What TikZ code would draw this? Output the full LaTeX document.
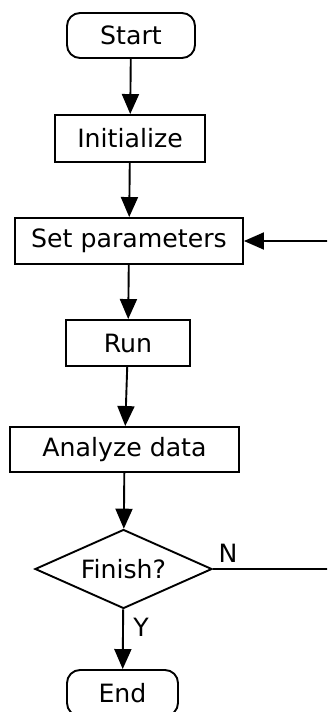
\documentclass[tikz,border=0pt]{standalone}
\usepackage{fontspec}
\setmainfont{DejaVu Sans}
\usetikzlibrary{arrows.meta,shapes.geometric}

\tikzset{
    box/.style={draw, line width=0.95pt, inner sep=0pt, font=\fontsize{12.6}{14}\selectfont},
    term/.style={box, rounded corners=6.5pt},
    decision/.style={box, diamond, aspect=2.24},
    flow/.style={line width=0.95pt, -{Triangle[length=10pt,width=8.5pt]}},
    plain/.style={line width=0.95pt},
    tag/.style={font=\fontsize{12.6}{14}\selectfont, inner sep=0pt}
}

\begin{document}
\begin{tikzpicture}[x=0.5pt,y=-0.5pt]
        \useasboundingbox (0,0) rectangle (327,712);
        \clip (0,0) rectangle (327,712);
        \node[term, minimum width=64pt, minimum height=22.5pt] (start) at (131,35.5) {Start};
        \node[box, minimum width=75pt, minimum height=23.5pt] (init) at (130,138.5) {Initialize};
        \node[box, minimum width=114pt, minimum height=23pt] (setp) at (129,241) {Set parameters};
        \node[box, minimum width=62pt, minimum height=23pt] (run) at (128,343) {Run};
        \node[box, minimum width=114.5pt, minimum height=22.5pt] (analyze) at (124.5,449.5) {Analyze data};
        \node[decision, minimum width=88.5pt, minimum height=39.5pt] (finish) at (123.5,569) {Finish?};
        \node[term, minimum width=55.5pt, minimum height=23pt] (stop) at (122.5,693) {End};
        \coordinate (back) at (340,569); % off the right edge
        \coordinate (backup) at (340,241);
        \node[tag] (no) at (228,553) {N};
        \node[tag] (yes) at (141,627) {Y};

        \draw[flow] (start) -- (init);
        \draw[flow] (init) -- (setp);
        \draw[flow] (setp) -- (run);
        \draw[flow] (run) -- (analyze);
        \draw[flow] (analyze) -- (finish);
        \draw[flow] (finish) -- (stop);
        \draw[plain] (finish.east) -- (back);
        \draw[plain] (back) -- (backup); % return path, clipped
        \draw[flow] (backup) -- (setp.east);
    \end{tikzpicture}
\end{document}
